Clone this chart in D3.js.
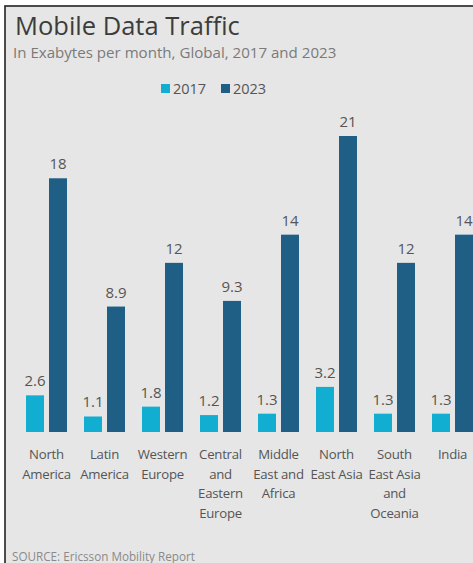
<!DOCTYPE html>
<html><head><meta charset="utf-8">
<script src="https://cdn.jsdelivr.net/npm/d3@7"></script>
<style>
html,body{margin:0;padding:0;background:#fff;}
svg{display:block;}
</style></head>
<body>
<svg id="chart" width="473" height="563"></svg>
<script>
const categories = [
  ["North","America"],
  ["Latin","America"],
  ["Western","Europe"],
  ["Central","and","Eastern","Europe"],
  ["Middle","East and","Africa"],
  ["North","East Asia"],
  ["South","East Asia","and","Oceania"],
  ["India"]
];
const series = ["2017","2023"];
const values2017 = [2.6,1.1,1.8,1.2,1.3,3.2,1.3,1.3];
const values2023 = [18,8.9,12,9.3,14,21,12,14];
const valueLabels2017 = ["2.6","1.1","1.8","1.2","1.3","3.2","1.3","1.3"];
const valueLabels2023 = ["18","8.9","12","9.3","14","21","12","14"];
const colors = ["#12aed1","#1f5f86"];

const font = "'Segoe UI','Open Sans','Noto Sans',sans-serif";
const svg = d3.select("#chart");

svg.append("rect").attr("x",5).attr("y",6).attr("width",470).attr("height",560)
  .attr("fill","#e6e6e6").attr("stroke","#222").attr("stroke-width",1.6);

svg.append("text").attr("x",15).attr("y",35).attr("font-family",font)
  .attr("font-size",25.5).attr("fill","#3c3c3c").text("Mobile Data Traffic");
svg.append("text").attr("x",13).attr("y",58).attr("font-family",font)
  .attr("font-size",15.1).attr("fill","#7a7a7a").text("In Exabytes per month, Global, 2017 and 2023");

const legX = [161,221];
series.forEach((s,i)=>{
  svg.append("rect").attr("x",legX[i]).attr("y",84).attr("width",9).attr("height",9).attr("fill",colors[i]);
  svg.append("text").attr("x",legX[i]+12).attr("y",94).attr("font-family",font)
    .attr("font-size",14.5).attr("fill","#555").text(s);
});

const idx = d3.range(categories.length);
const x0 = d3.scaleBand().domain(idx).range([17.5,481.5]).paddingInner(17/58).paddingOuter(8.5/58);
const x1 = d3.scaleBand().domain(series).range([0,x0.bandwidth()]).paddingInner(5/23);
const y = d3.scaleLinear().domain([0,21]).range([432,136]);

const data = idx.map(i=>({i, vals:[values2017[i],values2023[i]], labs:[valueLabels2017[i],valueLabels2023[i]]}));

const g = svg.append("g");
const groups = g.selectAll("g.grp").data(data).join("g").attr("class","grp")
  .attr("transform",d=>`translate(${x0(d.i)},0)`);
series.forEach((s,si)=>{
  groups.append("rect").attr("x",x1(s)).attr("width",x1.bandwidth())
    .attr("y",d=>y(d.vals[si])).attr("height",d=>y(0)-y(d.vals[si])).attr("fill",colors[si]);
  groups.append("text").attr("x",x1(s)+x1.bandwidth()/2).attr("y",d=>y(d.vals[si])-9)
    .attr("text-anchor","middle").attr("font-family",font).attr("font-size",15)
    .attr("fill","#555").text(d=>d.labs[si]);
});

const xAxis = svg.append("g");
idx.forEach(i=>{
  const cx = x0(i)+x0.bandwidth()/2;
  const t = xAxis.append("text").attr("text-anchor","middle").attr("font-family",font)
    .attr("font-size",13.2).attr("letter-spacing",-0.25).attr("fill","#555");
  categories[i].forEach((line,li)=>{
    t.append("tspan").attr("x",cx).attr("y",459+li*19.5).text(line);
  });
});

svg.append("text").attr("x",12).attr("y",561).attr("font-family",font)
  .attr("font-size",11.7).attr("fill","#8a8a8a").text("SOURCE: Ericsson Mobility Report");
</script>
</body></html>
